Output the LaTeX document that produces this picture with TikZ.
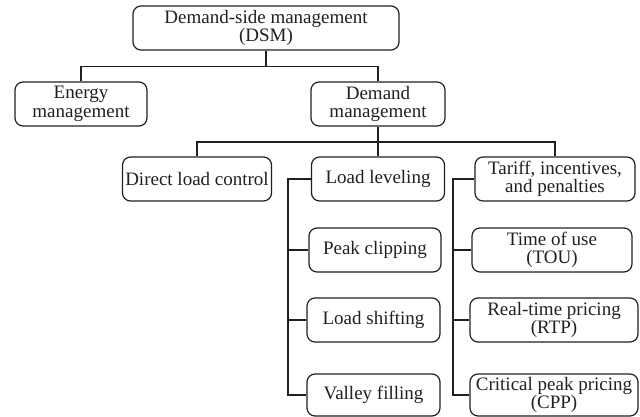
\documentclass[tikz,border=0pt]{standalone}
\usepackage{fontspec}
\setmainfont{Liberation Serif}
\usepackage{xcolor}
\definecolor{linec}{HTML}{231F20}
\definecolor{textc}{HTML}{231F20}

\begin{document}
\begin{tikzpicture}[x=1pt,y=-1pt,
		box/.style={draw=linec,line width=1.2pt,rounded corners=8pt,inner sep=1pt,
			minimum height=44pt,align=center,text=textc,
			font=\fontsize{19}{18.5}\selectfont},
		link/.style={draw=linec,line width=1.2pt}]
		\useasboundingbox (0,0) rectangle (640,417);
		%
		% top levels
		\node[box,minimum width=266pt] (dsm) at (266,28) {Demand-side management\\(DSM)};
		\node[box,minimum width=132pt] (energy) at (81,104) {Energy\\management};
		\node[box,minimum width=134pt] (demand) at (378,104) {Demand\\management};
		%
		% demand management branches
		\node[box,minimum width=149pt] (direct) at (197,179) {Direct load control};
		\node[box,minimum width=133pt] (leveling) at (378,179) {Load leveling};
		\node[box,minimum width=160pt] (tariff) at (555,179) {Tariff, incentives,\\and penalties};
		%
		% load leveling group
		\node[box,minimum width=132pt] (peak) at (375,250) {Peak clipping};
		\node[box,minimum width=133pt] (shifting) at (373.5,320) {Load shifting};
		\node[box,minimum width=133pt,minimum height=42pt] (valley) at (373.5,395) {Valley filling};
		%
		% tariff group
		\node[box,minimum width=160pt] (tou) at (552,250) {Time of use\\(TOU)};
		\node[box,minimum width=168pt] (rtp) at (554,320) {Real-time pricing\\(RTP)};
		\node[box,minimum width=168pt,minimum height=42pt] (cpp) at (554,395) {Critical peak pricing\\(CPP)};
		%
		% connectors
		\coordinate (j1) at (266,66.5);
		\draw[link] (dsm.south) -- (j1) -| (energy.north);
		\draw[link] (j1) -| (demand.north);
		%
		\coordinate (j2) at (378,142);
		\draw[link] (demand.south) -- (j2) -| (direct.north);
		\draw[link] (j2) -- (leveling.north);
		\draw[link] (j2) -| (tariff.north);
		%
		\coordinate (t1) at (288,179);
		\draw[link] (leveling.west) -- (t1) |- (valley.west);
		\draw[link] (t1) |- (peak.west);
		\draw[link] (t1) |- (shifting.west);
		%
		\coordinate (t2) at (453,179);
		\draw[link] (tariff.west) -- (t2) |- (cpp.west);
		\draw[link] (t2) |- (tou.west);
		\draw[link] (t2) |- (rtp.west);
	\end{tikzpicture}
\end{document}
